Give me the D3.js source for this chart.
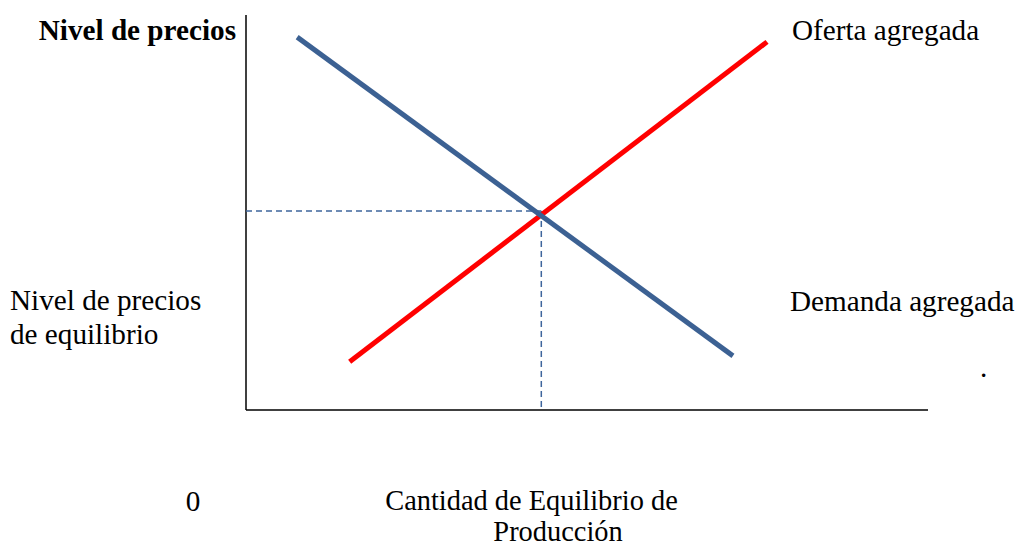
<!DOCTYPE html>
<html><head><meta charset="utf-8">
<script src="https://cdn.jsdelivr.net/npm/d3@7"></script>
<style>body{margin:0;background:#fff}svg text{font-family:"Liberation Serif","Times New Roman",serif;font-size:29.2px;fill:#000}</style>
</head><body><svg id="c" width="1016" height="547"></svg>
<script>
// Data (in abstract units 0..10)
const demandX = [0.75, 7.14];
const demandY = [9.44, 1.37];
const supplyX = [1.52, 7.64];
const supplyY = [1.22, 9.32];
const equilibrium = [4.33, 5.04];
const labels = {
  yTitle: "Nivel de precios",
  supply: "Oferta agregada",
  demand: "Demanda agregada",
  eqPrice: ["Nivel de precios", "de equilibrio"],
  origin: "0",
  xTitle: ["Cantidad de Equilibrio de", "Producción"]
};

const svg = d3.select("#c");
const x = d3.scaleLinear().domain([0, 10]).range([246, 928]);
const y = d3.scaleLinear().domain([0, 10]).range([410, 15]);

// axes
svg.append("line").attr("x1", x(0)).attr("x2", x(0)).attr("y1", y(0)).attr("y2", y(10)).attr("stroke", "#000").attr("stroke-width", 1.5);
svg.append("line").attr("x1", x(0)).attr("x2", x(10)).attr("y1", y(0)).attr("y2", y(0)).attr("stroke", "#000").attr("stroke-width", 1.5);

// dashed guides
const dash = "6,4";
svg.append("line").attr("x1", x(0)).attr("x2", x(equilibrium[0])).attr("y1", y(equilibrium[1])).attr("y2", y(equilibrium[1]))
  .attr("stroke", "#3e659c").attr("stroke-width", 1.5).attr("stroke-dasharray", dash);
svg.append("line").attr("x1", x(equilibrium[0])).attr("x2", x(equilibrium[0])).attr("y1", y(equilibrium[1])).attr("y2", y(0))
  .attr("stroke", "#3e659c").attr("stroke-width", 1.5).attr("stroke-dasharray", dash);

const line = d3.line().x(d => x(d[0])).y(d => y(d[1]));
svg.append("path").attr("d", line(d3.zip(supplyX, supplyY))).attr("stroke", "#ff0000").attr("stroke-width", 5).attr("fill", "none");
svg.append("path").attr("d", line(d3.zip(demandX, demandY))).attr("stroke", "#3c6193").attr("stroke-width", 5).attr("fill", "none");

// texts
svg.append("text").attr("x", 236).attr("y", 40).attr("text-anchor", "end").style("font-weight", "bold").text(labels.yTitle);
svg.append("text").attr("x", 792).attr("y", 40).text(labels.supply);
svg.append("text").attr("x", 790).attr("y", 311).text(labels.demand);
svg.append("text").attr("x", 10).attr("y", 310).text(labels.eqPrice[0]);
svg.append("text").attr("x", 10).attr("y", 344).text(labels.eqPrice[1]);
svg.append("text").attr("x", 980).attr("y", 377).text(".");
svg.append("text").attr("x", 193).attr("y", 511).attr("text-anchor", "middle").text(labels.origin);
svg.append("text").attr("x", 531.5).attr("y", 510).attr("text-anchor", "middle").style("font-size", "28.4px").text(labels.xTitle[0]);
svg.append("text").attr("x", 558).attr("y", 541).attr("text-anchor", "middle").style("font-size", "28.4px").text(labels.xTitle[1]);
</script></body></html>
